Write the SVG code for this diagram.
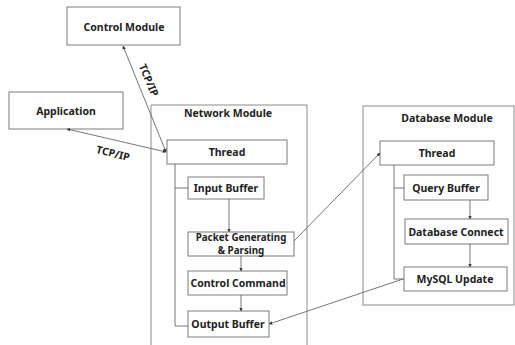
<svg xmlns="http://www.w3.org/2000/svg" width="515" height="345" viewBox="0 0 515 345">
  <style>
    .box { fill: #ffffff; stroke: #7a7a7a; stroke-width: 1; }
    .frame { fill: none; stroke: #8a8a8a; stroke-width: 1; }
    .lbl { font-family: "Noto Sans", "Liberation Sans", sans-serif; font-weight: bold; font-size: 10.5px; fill: #222222; text-anchor: middle; dominant-baseline: central; }
    .small { font-size: 9.8px; }
    .wire { fill: none; stroke: #666666; stroke-width: 0.9; }
  </style>
  <defs>
    <marker id="tip" viewBox="0 0 6 6" refX="5.5" refY="3" markerWidth="4" markerHeight="4" orient="auto-start-reverse">
      <path d="M0,0 L6,3 L0,6 z" fill="#333333"/>
    </marker>
  </defs>

  <rect width="515" height="345" fill="#ffffff"/>

  <!-- module frames -->
  <g id="network-module">
    <path class="frame" d="M151,345 V105 H307 V345"/>
    <text class="lbl" x="228" y="113">Network Module</text>
  </g>
  <g id="database-module">
    <rect class="frame" x="363" y="106" width="151" height="199"/>
    <text class="lbl" x="447" y="118">Database Module</text>
  </g>

  <!-- standalone nodes -->
  <g id="control-module">
    <rect class="box" x="67" y="7" width="113" height="38"/>
    <text class="lbl" x="124" y="27">Control Module</text>
  </g>
  <g id="application">
    <rect class="box" x="9" y="92" width="114" height="37"/>
    <text class="lbl" x="66" y="111">Application</text>
  </g>

  <!-- network module internals -->
  <g id="net-thread">
    <rect class="box" x="167" y="140" width="120" height="24"/>
    <text class="lbl" x="227" y="152">Thread</text>
  </g>
  <g id="input-buffer">
    <rect class="box" x="188" y="177" width="76" height="22"/>
    <text class="lbl" x="226" y="188">Input Buffer</text>
  </g>
  <g id="packet">
    <rect class="box" x="188" y="232" width="106" height="24"/>
    <text class="lbl small" x="241" y="237.5">Packet Generating</text>
    <text class="lbl small" x="241" y="250">&amp; Parsing</text>
  </g>
  <g id="control-command">
    <rect class="box" x="188" y="271" width="99" height="24"/>
    <text class="lbl" x="238" y="283">Control Command</text>
  </g>
  <g id="output-buffer">
    <rect class="box" x="188" y="311" width="81" height="26"/>
    <text class="lbl" x="228" y="324">Output Buffer</text>
  </g>

  <!-- database module internals -->
  <g id="db-thread">
    <rect class="box" x="380" y="141" width="114" height="24"/>
    <text class="lbl" x="437" y="153">Thread</text>
  </g>
  <g id="query-buffer">
    <rect class="box" x="404" y="175" width="84" height="25"/>
    <text class="lbl" x="446" y="188">Query Buffer</text>
  </g>
  <g id="database-connect">
    <rect class="box" x="405" y="219" width="103" height="25"/>
    <text class="lbl" x="456" y="232">Database Connect</text>
  </g>
  <g id="mysql-update">
    <rect class="box" x="404" y="267" width="103" height="24"/>
    <text class="lbl" x="455" y="279">MySQL Update</text>
  </g>

  <g id="connectors">
    <!-- thread ownership brackets -->
    <path class="wire" d="M175,164 V326 H188 M175,188 H188"/>
    <path class="wire" d="M394,165 V279 H404 M394,188 H404"/>
    <!-- in-module flow -->
    <line class="wire" x1="229" y1="199" x2="229" y2="232" marker-end="url(#tip)"/>
    <line class="wire" x1="241" y1="256" x2="241" y2="271" marker-end="url(#tip)"/>
    <line class="wire" x1="241" y1="295" x2="241" y2="311" marker-end="url(#tip)"/>
    <line class="wire" x1="470" y1="200" x2="470" y2="219" marker-end="url(#tip)"/>
    <line class="wire" x1="470" y1="244" x2="470" y2="267" marker-end="url(#tip)"/>
    <!-- external links -->
    <line class="wire" x1="123" y1="46" x2="166" y2="152" marker-start="url(#tip)" marker-end="url(#tip)"/>
    <line class="wire" x1="67" y1="129" x2="166" y2="152" marker-start="url(#tip)" marker-end="url(#tip)"/>
    <line class="wire" x1="294" y1="241" x2="380" y2="153" marker-end="url(#tip)"/>
    <line class="wire" x1="403" y1="279" x2="269" y2="324" marker-end="url(#tip)"/>
    <text class="lbl" transform="translate(149,80) rotate(67)">TCP/IP</text>
    <text class="lbl" transform="translate(113,153) rotate(14)">TCP/IP</text>
  </g>
</svg>
